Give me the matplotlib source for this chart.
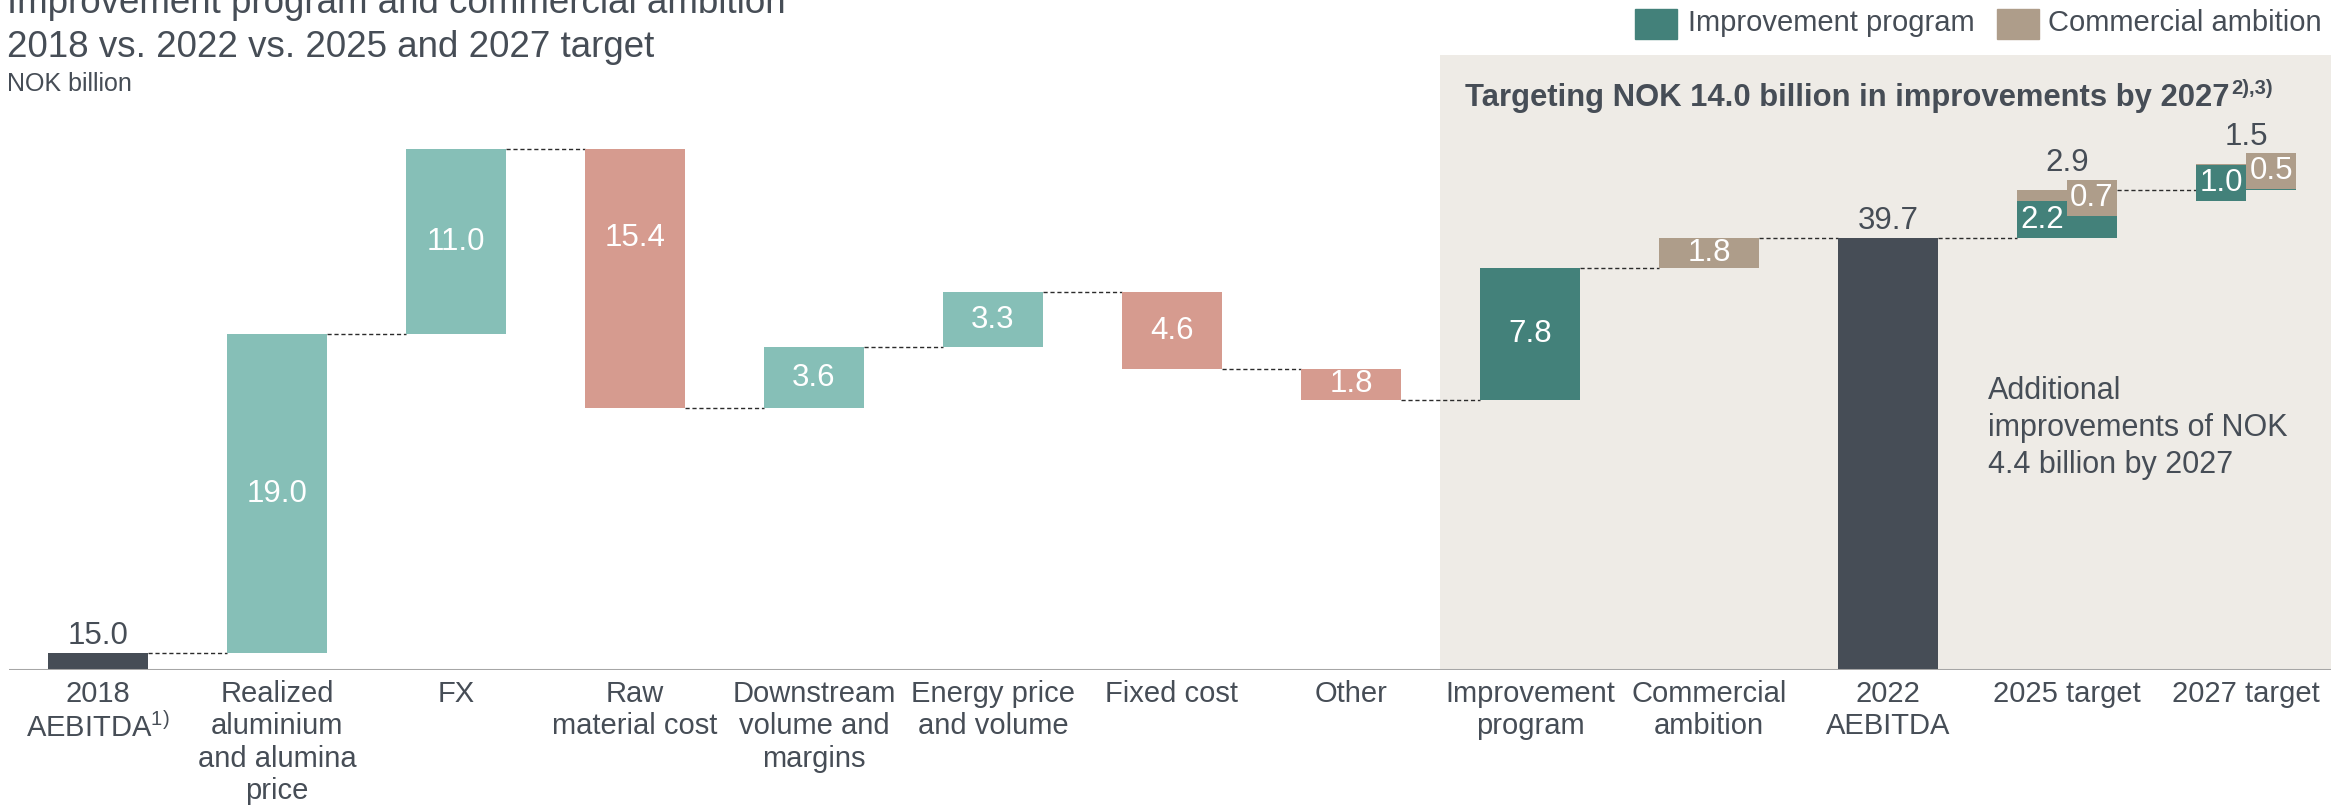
import numpy as np
import matplotlib.pyplot as plt
from matplotlib.patches import Rectangle

plt.rcParams['font.family'] = ['Liberation Sans', 'DejaVu Sans']
plt.rcParams['mathtext.fontset'] = 'custom'
plt.rcParams['mathtext.rm'] = 'Liberation Sans'
plt.rcParams['mathtext.bf'] = 'Liberation Sans:bold'

# data (NOK billion)
categories = ['2018\nAEBITDA$^{1)}$', 'Realized\naluminium\nand alumina\nprice', 'FX',
              'Raw\nmaterial cost', 'Downstream\nvolume and\nmargins', 'Energy price\nand volume',
              'Fixed cost', 'Other', 'Improvement\nprogram', 'Commercial\nambition',
              '2022\nAEBITDA', '2025 target', '2027 target']
kinds = ['total', 'up', 'up', 'down', 'up', 'up', 'down', 'down',
         'improve', 'commercial', 'total', 'target', 'target']
values = [15.0, 19.0, 11.0, -15.4, 3.6, 3.3, -4.6, -1.8, 7.8, 1.8, 39.7, 2.9, 1.5]
target_improve = [2.2, 1.0]
target_commercial = [0.7, 0.5]

dark = '#464D56'
teal_light = '#86BFB7'
salmon = '#D69B8F'
green = '#43817A'
tan = '#AE9D8A'
beige = '#EEEBE6'
txt = '#464D56'
colors = {'total': dark, 'up': teal_light, 'down': salmon, 'improve': green, 'commercial': tan}

W, H = 2331, 808
fig = plt.figure(figsize=(W / 100, H / 100), dpi=100)
ax = fig.add_axes([9 / W, (H - 670) / H, (W - 9) / W, 615 / H])

bw = 0.56
fs = 21
vfs = 22.5
ax.axvspan(7.5, 14, color=beige, zorder=0, lw=0)

level = 0.0
levels = []
t = 0
for i, (k, v) in enumerate(zip(kinds, values)):
    if k == 'total':
        ax.bar(i, v, bw, bottom=0, color=dark, zorder=2)
        ax.annotate(f'{v:.1f}', (i, v), xytext=(0, 17), textcoords='offset pixels',
                    ha='center', va='center', fontsize=vfs, color=txt)
        level = v
    elif k == 'target':
        imp, com = target_improve[t], target_commercial[t]
        ax.bar(i, imp, bw, bottom=level, color=green, zorder=2)
        ax.bar(i, com, bw, bottom=level + imp, color=tan, zorder=2)
        box = dict(boxstyle='square,pad=0.1', ec='none')
        if t == 0:
            ax.text(i - bw / 4, level + imp / 2, f'{imp:.1f}', ha='center', va='center',
                    fontsize=vfs, color='white', zorder=3)
            ax.text(i + bw / 4, level + imp + com / 2 - 0.15, f'{com:.1f}', ha='center',
                    va='center', fontsize=vfs, color='white', zorder=4, bbox={**box, 'fc': tan})
        else:
            ax.text(i - bw / 4, level + imp / 2 - 0.1, f'{imp:.1f}', ha='center', va='center',
                    fontsize=vfs, color='white', zorder=3, bbox={**box, 'fc': green})
            ax.text(i + bw / 4, level + imp + com / 2 - 0.15, f'{com:.1f}', ha='center',
                    va='center', fontsize=vfs, color='white', zorder=4, bbox={**box, 'fc': tan})
        level += imp + com
        ax.annotate(f'{v:.1f}', (i, level), xytext=(0, 27), textcoords='offset pixels',
                    ha='center', va='center', fontsize=vfs, color=txt)
        t += 1
    else:
        bottom = level if v > 0 else level + v
        ax.bar(i, abs(v), bw, bottom=bottom, color=colors[k], zorder=2)
        ly = bottom + abs(v) / 2
        if k == 'down' and abs(v) > 10:
            ly += 2.4
        ax.text(i, ly, f'{abs(v):.1f}', ha='center', va='center', fontsize=vfs, color='white', zorder=3)
        level += v
    levels.append(level)

# dashed connectors
for i in range(len(categories) - 1):
    ax.plot([i + bw / 2, i + 1 - bw / 2], [levels[i], levels[i]], color='#2b2b2b',
            lw=1.0, ls=(0, (3, 2)), zorder=1)

ax.axhline(14, color='#A6A6A6', lw=2.2, zorder=3)
ax.set_xlim(-0.497, 12.475)
ax.set_ylim(14, 14 + 615 / 16.8)
ax.set_xticks(range(len(categories)))
ax.set_xticklabels(categories, fontsize=fs, color=txt)
ax.tick_params(axis='x', length=0, pad=7)
ax.set_yticks([])
for s in ax.spines.values():
    s.set_visible(False)
ax.patch.set_alpha(0)

# multi-line baseline alignment uses the last line
ax.text(10.56, 25.75, 'Additional\nimprovements of NOK\n4.4 billion by 2027',
        fontsize=22, color=txt, va='baseline', ha='left', linespacing=1.3)

# titles
fig.text(7 / W, 1 - 13 / H, 'Improvement program and commercial ambition', fontsize=26.5, color=txt, va='baseline')
fig.text(7 / W, 1 - 57 / H, '2018 vs. 2022 vs. 2025 and 2027 target', fontsize=26.5, color=txt, va='baseline')
fig.text(7 / W, 1 - 91 / H, 'NOK billion', fontsize=18, color=txt, va='baseline')
head = fig.text(1465 / W, 1 - 106 / H, 'Targeting NOK 14.0 billion in improvements by 2027',
                fontsize=22.3, color=txt, fontweight='bold', va='baseline')
ax.annotate('2),3)', xy=(1, 0.5), xycoords=head, xytext=(2, 0), textcoords='offset pixels',
            fontsize=14.5, fontweight='bold', color=txt, ha='left', va='bottom', annotation_clip=False)

# legend
fig.patches.append(Rectangle((1635 / W, 1 - 39 / H), 42 / W, 30 / H, transform=fig.transFigure, color=green))
fig.text(1688 / W, 1 - 23 / H, 'Improvement program', fontsize=fs, color=txt, va='center')
fig.patches.append(Rectangle((1997 / W, 1 - 39 / H), 42 / W, 30 / H, transform=fig.transFigure, color=tan))
fig.text(2048 / W, 1 - 23 / H, 'Commercial ambition', fontsize=fs, color=txt, va='center')

fig.savefig('out.png', dpi=100)
